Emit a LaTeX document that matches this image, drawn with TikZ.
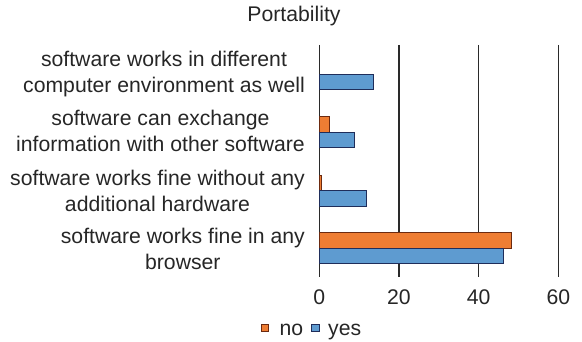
\documentclass[tikz,border=0pt]{standalone}
\usepackage{fontspec}
\setmainfont{Liberation Sans}
\definecolor{orfill}{HTML}{EE7D33}
\definecolor{ordraw}{HTML}{6B2A10}
\definecolor{blfill}{HTML}{5E9BD0}
\definecolor{bldraw}{HTML}{1F2D5A}
\definecolor{gridc}{HTML}{2A2A2A}
\begin{document}
\begin{tikzpicture}[x=1pt,y=-1pt,
  txt/.style={font=\fontsize{21.2}{26}\selectfont, text=black!85, inner sep=0pt},
  catlabel/.style={txt, anchor=east, align=center},
  nobar/.style={fill=orfill, draw=ordraw, line width=0.9pt},
  yesbar/.style={fill=blfill, draw=bldraw, line width=0.9pt},
  gridline/.style={draw=gridc, line width=1.3pt}]
\useasboundingbox (0,0) rectangle (582,342);
\def\ox{319.3}
\def\sx{3.985}
% grid
\foreach \v in {0,20,40,60}{
  \draw[gridline] ({\ox+\v*\sx},45) -- ({\ox+\v*\sx},277);
  \node[txt] (tick\v) at ({\ox+\v*\sx},297) {\v};
}
% title
\node[txt] (title) at (294,16) {Portability};
% categories: center y, no value, yes value
\foreach \c/\n/\y/\name in {74/0/13.7/c1, 132/2.6/8.8/c2, 190.5/0.6/11.8/c3, 248/48.1/46.3/c4}{
  \ifdim \n pt>0pt
    \draw[nobar] (\ox,{\c-15.5}) rectangle ({\ox+\n*\sx},\c);
  \fi
  \draw[yesbar] (\ox,\c) rectangle ({\ox+\y*\sx},{\c+15.5});
}
\node[catlabel] (l1) at (305,74) {software works in different\\computer environment as well};
\node[catlabel] (l2) at (305,131) {software can exchange\\information with other software};
\node[catlabel] (l3) at (305,191) {software works fine without any\\additional hardware};
\node[catlabel] (l4) at (305,249) {software works fine in any\\browser};
% legend
\draw[nobar, line width=0.7pt] (261,324) rectangle (268.3,331.3);
\node[txt, anchor=base west] (lno) at (279.5,336) {no};
\draw[yesbar, line width=0.7pt] (311.7,324) rectangle (319,331.3);
\node[txt, anchor=base west] (lyes) at (328,336) {yes};
\end{tikzpicture}
\end{document}
